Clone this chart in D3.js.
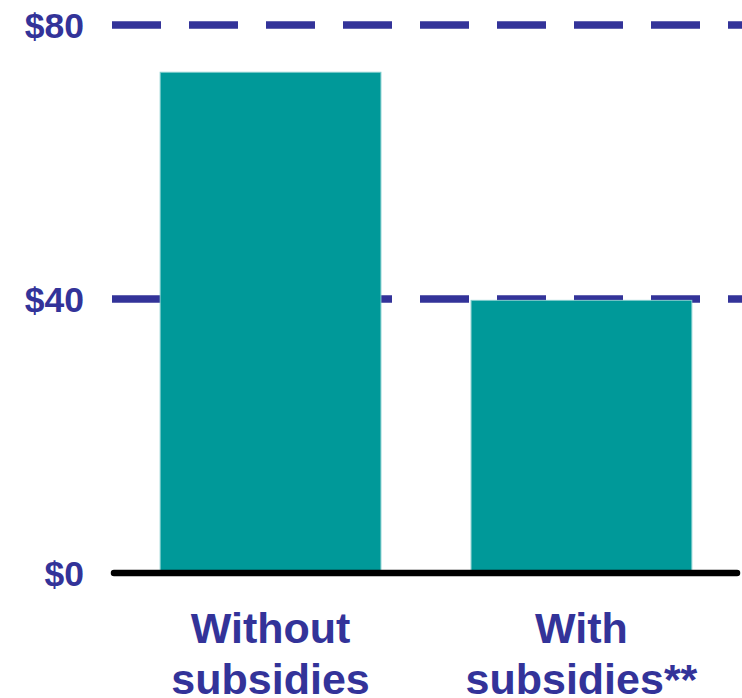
<!DOCTYPE html>
<html>
<head>
<meta charset="utf-8">
<script src="https://cdn.jsdelivr.net/npm/d3@7"></script>
<style>
  body { margin: 0; background: #fff; }
</style>
</head>
<body>
<div id="chart"></div>
<script>
const categories = [['Without', 'subsidies'], ['With', 'subsidies**']];
const values = [73.1, 39.8];
const tickValues = [0, 40, 80];
const gridValues = [40, 80];

class MyBarChart {
    /**
     * Class constructor with basic chart configuration
     */
    constructor(_config) {
        this.config = {
            parentElement: _config.parentElement,
            containerWidth: _config.containerWidth || 742,
            containerHeight: _config.containerHeight || 698
        }
        this.initVis();
    }

    initVis() {
        let vis = this;
        const blue = '#333399';
        const teal = '#009999';

        vis.svg = d3.select(vis.config.parentElement)
            .append('svg')
            .attr('width', vis.config.containerWidth)
            .attr('height', vis.config.containerHeight)
            .style('font-family', '"Liberation Sans", Arial, sans-serif')
            .style('font-weight', 'bold');

        // Scales
        vis.xScale = d3.scaleBand()
            .domain(d3.range(categories.length))
            .range([112, 740])
            .paddingInner(0.29)
            .paddingOuter(0.155);

        vis.yScale = d3.scaleLinear()
            .domain([0, 80])
            .range([573, 25]);

        // dashed gridlines, drawn under the bars
        vis.svg.append('g')
            .selectAll('line')
            .data(gridValues)
            .join('line')
            .attr('x1', 112)
            .attr('x2', 742)
            .attr('y1', d => vis.yScale(d))
            .attr('y2', d => vis.yScale(d))
            .attr('stroke', blue)
            .attr('stroke-width', 7.5)
            .attr('stroke-dasharray', '49,28');

        // bars
        vis.svg.append('g')
            .selectAll('rect')
            .data(values)
            .join('rect')
            .attr('x', (d, i) => vis.xScale(i))
            .attr('y', d => vis.yScale(d))
            .attr('width', vis.xScale.bandwidth())
            .attr('height', d => vis.yScale(0) - vis.yScale(d))
            .attr('fill', teal)
            .attr('stroke', '#7fcccc')
            .attr('stroke-width', 1);

        // baseline
        vis.svg.append('line')
            .attr('x1', 114)
            .attr('x2', 737)
            .attr('y1', vis.yScale(0))
            .attr('y2', vis.yScale(0))
            .attr('stroke', '#000')
            .attr('stroke-width', 6.5)
            .attr('stroke-linecap', 'round');

        // y tick labels
        vis.svg.append('g')
            .selectAll('text')
            .data(tickValues)
            .join('text')
            .attr('x', 84)
            .attr('y', d => vis.yScale(d))
            .attr('dy', '0.36em')
            .attr('text-anchor', 'end')
            .attr('fill', blue)
            .style('font-size', '35.5px')
            .text(d => `$${d}`);

        // category labels
        const lab = vis.svg.append('g')
            .selectAll('text')
            .data(categories)
            .join('text')
            .attr('x', (d, i) => vis.xScale(i) + vis.xScale.bandwidth() / 2)
            .attr('y', vis.yScale(0) + 70)
            .attr('text-anchor', 'middle')
            .attr('fill', blue)
            .style('font-size', '43px');

        lab.selectAll('tspan')
            .data(d => d)
            .join('tspan')
            .attr('x', function () { return this.parentNode.getAttribute('x'); })
            .attr('dy', (d, i) => i === 0 ? 0 : 51)
            .text(d => d);
    }
}

new MyBarChart({ parentElement: '#chart' });
</script>
</body>
</html>
